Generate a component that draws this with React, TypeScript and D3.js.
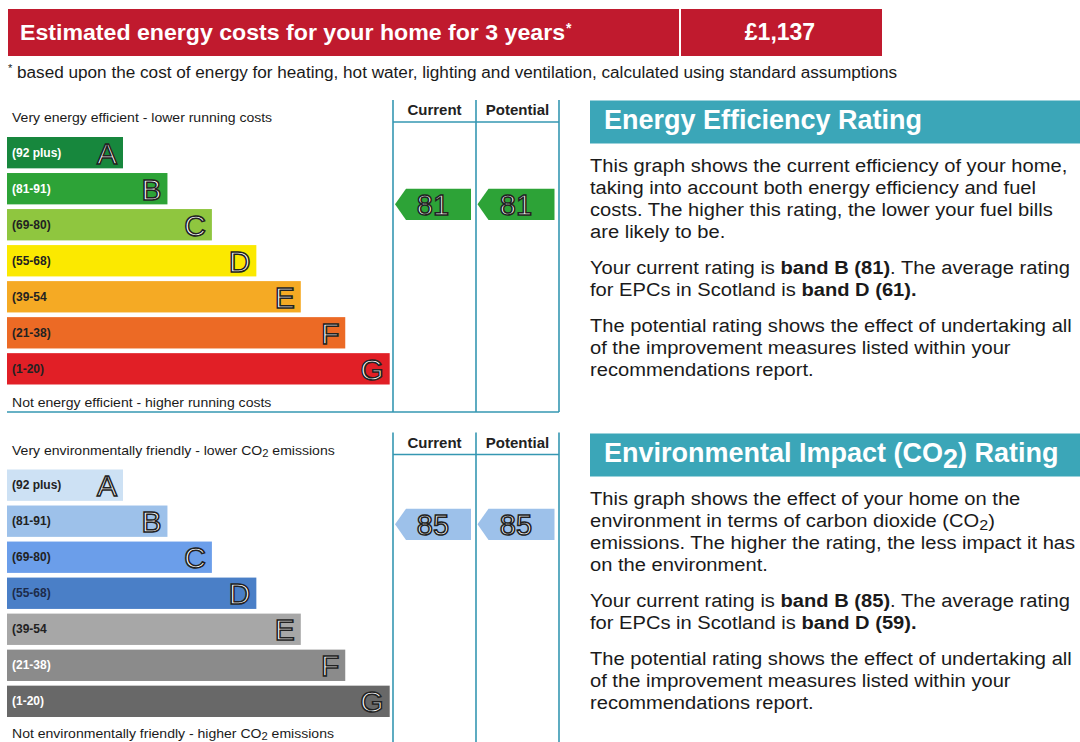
import * as d3 from "d3";

const FONT = "'Liberation Sans', Arial, Helvetica, sans-serif";

// bands
const bandLetters = ["A", "B", "C", "D", "E", "F", "G"];
const bandRanges = ["(92 plus)", "(81-91)", "(69-80)", "(55-68)", "(39-54", "(21-38)", "(1-20)"];
const bandMax = [100, 91, 80, 68, 54, 38, 20];
const bandMin = [92, 81, 69, 55, 39, 21, 1];

const energyColors = ["#17873d", "#2da337", "#8fc63f", "#fbe900", "#f5aa24", "#ec6a25", "#e11f26"];
const energyLabelColors = ["#fff", "#fff", "#222", "#222", "#222", "#222", "#222"];
const envColors = ["#cde1f4", "#9dc1ea", "#6b9eea", "#4a7fc7", "#a7a7a7", "#8b8b8b", "#686868"];
const envLabelColors = ["#222", "#222", "#222", "#1d2b4a", "#222", "#fff", "#fff"];

// ratings
const energyCurrent = 81;
const energyPotential = 81;
const envCurrent = 85;
const envPotential = 85;

const costTitle = "Estimated energy costs for your home for 3 years";
const costValue = "£1,137";
const footnote =
  "based upon the cost of energy for heating, hot water, lighting and ventilation, calculated using standard assumptions";

type Seg = { t: string; b?: boolean; sub?: boolean };

const energyParas: Seg[][][] = [
  [
    [{ t: "This graph shows the current efficiency of your home," }],
    [{ t: "taking into account both energy efficiency and fuel" }],
    [{ t: "costs. The higher this rating, the lower your fuel bills" }],
    [{ t: "are likely to be." }],
  ],
  [
    [{ t: "Your current rating is " }, { t: "band B (81)", b: true }, { t: ". The average rating" }],
    [{ t: "for EPCs in Scotland is " }, { t: "band D (61).", b: true }],
  ],
  [
    [{ t: "The potential rating shows the effect of undertaking all" }],
    [{ t: "of the improvement measures listed within your" }],
    [{ t: "recommendations report." }],
  ],
];

const envParas: Seg[][][] = [
  [
    [{ t: "This graph shows the effect of your home on the" }],
    [{ t: "environment in terms of carbon dioxide (CO" }, { t: "2", sub: true }, { t: ")" }],
    [{ t: "emissions. The higher the rating, the less impact it has" }],
    [{ t: "on the environment." }],
  ],
  [
    [{ t: "Your current rating is " }, { t: "band B (85)", b: true }, { t: ". The average rating" }],
    [{ t: "for EPCs in Scotland is " }, { t: "band D (59).", b: true }],
  ],
  [
    [{ t: "The potential rating shows the effect of undertaking all" }],
    [{ t: "of the improvement measures listed within your" }],
    [{ t: "recommendations report." }],
  ],
];

const LINE = "#3597b2";
const TEAL = "#3ba6b8";
const RED = "#c01a2e";

function SegText({ segs, x, y, size, sx = 1 }: { segs: Seg[]; x: number; y: number; size: number; sx?: number }) {
  const out: JSX.Element[] = [];
  let shifted = false;
  segs.forEach((s, i) => {
    let dy = 0;
    if (s.sub && !shifted) { dy = size * 0.2; shifted = true; }
    else if (!s.sub && shifted) { dy = -size * 0.2; shifted = false; }
    out.push(
      <tspan key={i} dy={dy || undefined} fontWeight={s.b ? "bold" : undefined} fontSize={s.sub ? size * 0.8 : undefined}>
        {s.t}
      </tspan>
    );
  });
  return (
    <text x={0} y={0} transform={`translate(${x},${y}) scale(${sx},1)`} fontSize={size} fill="#1a1a1a" fontFamily={FONT}>
      {out}
    </text>
  );
}

function bandIndex(v: number) {
  return bandMin.findIndex((m) => v >= m);
}

function RatingChart({
  oy, colors, labelColors, current, potential, topText, bottomText, bottomDy = 0,
}: {
  oy: number; colors: string[]; labelColors: string[]; current: number; potential: number;
  topText: Seg[]; bottomText: Seg[]; bottomDy?: number;
}) {
  const cols = [393, 476, 559];
  const y = d3.scaleBand<string>().domain(bandLetters).range([oy + 37, oy + 284.5]).paddingInner(0.13);
  const xEnd = d3.scaleLinear().domain([0, bandLetters.length - 1]).range([123, 389.7]);
  const bh = y.bandwidth();

  const arrowY = (v: number) => {
    const i = bandIndex(v);
    const top = y(bandLetters[i])!;
    const s = d3.scaleLinear().domain([bandMax[i], bandMin[i]]).range([top, top + bh]).clamp(true);
    return s(v);
  };

  const arrow = (v: number, x0: number, x1: number, key: string) => {
    const cy = arrowY(v);
    const h = bh;
    const path = d3.path();
    path.moveTo(x0, cy);
    path.lineTo(x0 + 11, cy - h / 2);
    path.lineTo(x1, cy - h / 2);
    path.lineTo(x1, cy + h / 2);
    path.lineTo(x0 + 11, cy + h / 2);
    path.closePath();
    return (
      <g key={key}>
        <path d={path.toString()} fill={colors[bandIndex(v)]} />
        <text x={(x0 + x1) / 2} y={cy + 10.5} textAnchor="middle" fontSize={29} fontFamily={FONT}
          fill="#fff" stroke="#222" strokeWidth={1.5}>
          {v}
        </text>
      </g>
    );
  };

  return (
    <g>
      {/* bars */}
      {bandLetters.map((l, i) => (
        <g key={l}>
          <rect x={7} y={y(l)} width={xEnd(i) - 7} height={bh} fill={colors[i]} />
          <text x={12} y={y(l)! + bh / 2 + 4} fontSize={12} fontWeight="bold" fill={labelColors[i]} fontFamily={FONT}>
            {bandRanges[i]}
          </text>
          <text x={xEnd(i) - 6} y={y(l)! + bh / 2 + 11} textAnchor="end" fontSize={30} fontFamily={FONT}
            fill="#fff" stroke="#222" strokeWidth={1.5}>
            {l}
          </text>
        </g>
      ))}
      {/* frame */}
      {cols.map((c) => (
        <line key={c} x1={c} x2={c} y1={oy} y2={oy + 312} stroke={LINE} strokeWidth={1.6} />
      ))}
      <line x1={cols[0]} x2={cols[2]} y1={oy + 22} y2={oy + 22} stroke={LINE} strokeWidth={1.6} />
      <line x1={7} x2={cols[2]} y1={oy + 312} y2={oy + 312} stroke={LINE} strokeWidth={1.6} />
      <text x={(cols[0] + cols[1]) / 2} y={oy + 15} textAnchor="middle" fontSize={15} fontWeight="bold" fill="#222" fontFamily={FONT}>
        Current
      </text>
      <text x={(cols[1] + cols[2]) / 2} y={oy + 15} textAnchor="middle" fontSize={15} fontWeight="bold" fill="#222" fontFamily={FONT}>
        Potential
      </text>
      <SegText segs={topText} x={12} y={oy + 22} size={13} sx={1.08} />
      <SegText segs={bottomText} x={12} y={oy + 307 + bottomDy} size={13} sx={1.08} />
      {arrow(current, cols[0] + 2, cols[1] - 5, "cur")}
      {arrow(potential, cols[1] + 1.5, cols[2] - 4.5, "pot")}
    </g>
  );
}

function InfoPanel({ hy, title, paras }: { hy: number; title: Seg[]; paras: Seg[][][] }) {
  const starts = [71, 173, 231];
  return (
    <g>
      <rect x={590} y={hy} width={490} height={43} fill={TEAL} />
      <text x={604} y={hy + 28.5} fontSize={27} fontWeight="bold" fill="#fff" fontFamily={FONT}>
        {title.map((s, i) => (
          <tspan key={i} dy={s.sub ? 6 : i > 0 && title[i - 1].sub ? -6 : undefined}>{s.t}</tspan>
        ))}
      </text>
      {paras.map((p, pi) =>
        p.map((line, li) => (
          <SegText key={`${pi}-${li}`} segs={line} x={590} y={hy + starts[pi] + li * 22} size={19} sx={1.06} />
        ))
      )}
    </g>
  );
}

export default function App() {
  return (
    <svg width={1080} height={742} style={{ position: "absolute", left: 0, top: 0, background: "#fff" }}>
      <rect x={0} y={0} width={1080} height={742} fill="#fff" />
      {/* cost header */}
      <rect x={8} y={9} width={874} height={47} fill={RED} />
      <line x1={680} x2={680} y1={9} y2={56} stroke="#fff" strokeWidth={2} />
      <text x={20} y={40} fontSize={22} fontWeight="bold" fill="#fff" fontFamily={FONT}
        textLength={545} lengthAdjust="spacingAndGlyphs">
        {costTitle}
      </text>
      <text x={566} y={33} fontSize={14} fontWeight="bold" fill="#fff" fontFamily={FONT}>*</text>
      <text x={780} y={40} textAnchor="middle" fontSize={23} fontWeight="bold" fill="#fff" fontFamily={FONT}>
        {costValue}
      </text>
      <text x={8} y={72} fontSize={11} fill="#1a1a1a" fontFamily={FONT}>*</text>
      <text x={17} y={78} fontSize={16} fill="#1a1a1a" fontFamily={FONT}
        textLength={880} lengthAdjust="spacingAndGlyphs">
        {footnote}
      </text>

      <RatingChart
        oy={100}
        colors={energyColors}
        labelColors={energyLabelColors}
        current={energyCurrent}
        potential={energyPotential}
        topText={[{ t: "Very energy efficient - lower running costs" }]}
        bottomText={[{ t: "Not energy efficient - higher running costs" }]}
      />
      <RatingChart
        oy={432.5}
        colors={envColors}
        labelColors={envLabelColors}
        current={envCurrent}
        potential={envPotential}
        topText={[{ t: "Very environmentally friendly - lower CO" }, { t: "2", sub: true }, { t: " emissions" }]}
        bottomText={[{ t: "Not environmentally friendly - higher CO" }, { t: "2", sub: true }, { t: " emissions" }]}
        bottomDy={-2}
      />

      <InfoPanel hy={100.5} title={[{ t: "Energy Efficiency Rating" }]} paras={energyParas} />
      <InfoPanel
        hy={433.5}
        title={[{ t: "Environmental Impact (CO" }, { t: "2", sub: true }, { t: ") Rating" }]}
        paras={envParas}
      />
    </svg>
  );
}
